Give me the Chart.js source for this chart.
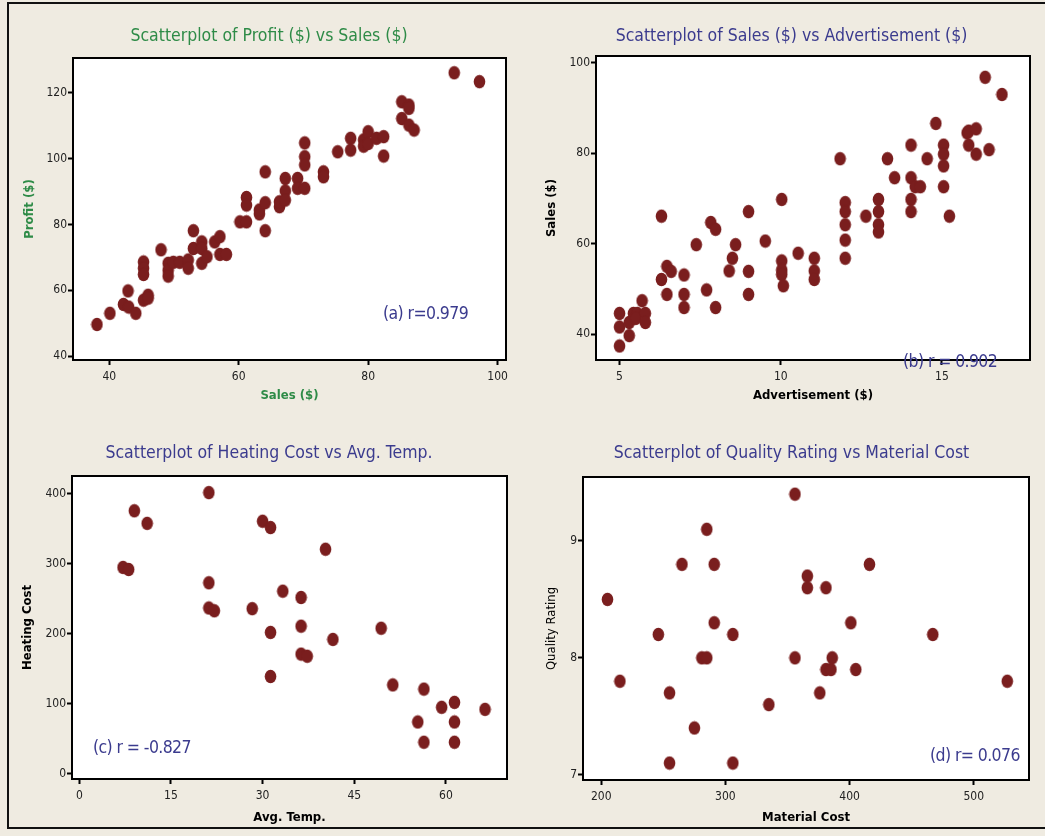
<!DOCTYPE html>
<html>
<head>
<meta charset="utf-8">
<script src="https://cdn.jsdelivr.net/npm/chart.js@4.4.1/dist/chart.umd.min.js"></script>
<style>
  html, body { margin: 0; padding: 0; }
  body { width: 1045px; height: 836px; background: #EFEBE1; position: relative; overflow: hidden; }
  #frame { position: absolute; left: 7px; top: 2px; width: 1060px; height: 827px; border: 2px solid #111; box-sizing: border-box; }
  canvas { position: absolute; }
  .ann { position: absolute; font-family: "DejaVu Sans Condensed", "Liberation Sans Narrow", "Liberation Sans", sans-serif; font-size: 17.5px; color: #3B3B8E; white-space: nowrap; line-height: 1; transform: translateY(-50%); z-index: 5; letter-spacing: -0.6px; }
</style>
</head>
<body>
<div id="frame"></div>
<canvas id="ca" style="left:0px;top:0px" width="538" height="418"></canvas>
<canvas id="cb" style="left:538px;top:0px" width="507" height="418"></canvas>
<canvas id="cc" style="left:0px;top:418px" width="538" height="418"></canvas>
<canvas id="cd" style="left:538px;top:418px" width="507" height="418"></canvas>
<div class="ann" style="left:383px;top:314px">(a) r=0.979</div>
<div class="ann" style="left:903px;top:362px">(b) r = 0.902</div>
<div class="ann" style="left:93px;top:748px">(c) r = -0.827</div>
<div class="ann" style="left:930px;top:756px">(d) r= 0.076</div>
<script>
// ---- Data ----
const salesA = [38.1,40.1,42.2,42.9,43.0,44.1,45.3,45.3,45.3,45.3,46.0,46.0,48.0,49.1,49.1,49.1,49.9,50.9,52.2,52.2,53.0,53.0,54.3,54.3,54.3,55.1,56.3,57.1,57.1,58.1,60.2,61.2,61.2,61.2,63.2,63.2,64.1,64.1,64.1,66.3,66.3,67.2,67.2,67.2,69.1,69.1,70.2,70.2,70.2,70.2,73.1,73.1,75.3,77.3,77.3,79.3,79.3,80.0,80.0,81.3,82.4,82.4,85.2,85.2,86.3,86.3,86.3,87.1,93.3,97.2];
const profitA = [49.6,53.0,55.7,59.8,54.9,53.0,68.6,66.7,64.8,57.0,58.5,57.6,72.3,68.2,66.1,64.3,68.5,68.5,69.2,66.7,78.1,72.7,74.7,72.7,68.2,70.2,74.7,76.3,70.9,70.9,80.8,80.8,88.2,85.9,83.2,84.4,96.0,86.6,78.1,85.4,86.9,94.0,90.2,87.4,94.0,91.0,91.0,104.8,100.6,98.1,96.0,94.5,102.1,106.2,102.6,105.7,103.8,108.2,104.6,106.2,106.7,100.8,117.3,112.2,116.3,115.3,110.2,108.7,126.1,123.4];

const advertB = [5.0,5.0,5.0,5.3,5.3,5.43,5.55,5.5,5.7,5.8,5.8,6.3,6.3,6.47,6.6,6.47,7.0,7.0,7.0,7.38,7.7,7.83,7.98,7.98,8.4,8.5,8.6,9.0,9.0,9.0,9.52,10.03,10.03,10.03,10.03,10.08,10.54,11.04,11.04,11.04,11.84,12.0,12.0,12.0,12.0,12.0,12.64,13.03,13.03,13.03,13.03,13.31,13.53,14.04,14.04,14.04,14.04,14.17,14.33,14.54,14.81,15.05,15.05,15.05,15.05,15.23,15.78,15.83,16.06,15.83,16.06,16.46,16.34,16.86];
const salesB = [44.6,41.6,37.4,39.7,42.6,44.6,44.6,43.5,47.4,44.6,42.6,66.1,52.1,55.0,53.9,48.8,53.1,48.8,45.9,59.8,49.8,64.7,63.2,45.9,54.0,56.8,59.8,67.1,53.9,48.8,60.6,69.8,56.2,54.2,53.2,50.7,57.9,56.8,54.0,52.1,78.8,69.1,67.1,64.2,60.8,56.8,66.1,69.8,67.1,64.2,62.6,78.8,74.6,81.8,74.6,69.8,67.1,72.6,72.6,78.8,86.6,81.8,79.8,77.2,72.6,66.1,84.5,84.9,85.4,81.8,79.8,80.8,96.8,93.0];

const tempC = [9.0,11.1,7.15,8.07,21.2,21.2,21.2,22.1,28.3,30.0,31.3,31.3,31.3,33.3,36.3,36.3,36.3,37.3,40.3,41.5,49.4,51.3,56.4,55.4,56.4,59.3,61.4,61.4,61.4,66.4];
const heatC = [376,358,295,292,402,273,237,233,236,361,352,202,139,261,252,211,171,168,321,192,208,127,121,74,45,95,102,74,45,92];

const materialD = [205,215,246,255,255,265,275,281,285,285,291,291,306,306,335,356,356,366,366,381,376,381,385,386,401,405,416,467,527];
const qualityD = [8.5,7.8,8.2,7.7,7.1,8.8,7.4,8.0,8.0,9.1,8.8,8.3,8.2,7.1,7.6,9.4,8.0,8.7,8.6,8.6,7.7,7.9,7.9,8.0,8.3,7.9,8.8,8.2,7.8];

// tick labels
const ticksAx = [40,60,80,100], ticksAy = [40,60,80,100,120];
const ticksBx = [5,10,15], ticksBy = [40,60,80,100];
const ticksCx = [0,15,30,45,60], ticksCy = [0,100,200,300,400];
const ticksDx = [200,300,400,500], ticksDy = [7,8,9];

// ---- Styling ----
const FONT = '"DejaVu Sans Condensed", "Liberation Sans Narrow", "Liberation Sans", sans-serif';
const GREEN = '#2E8B47', NAVY = '#3B3B8E', DOT = '#7A1E1E';

// elliptical marker image
const dot = document.createElement('canvas');
dot.width = 13; dot.height = 15;
(function(){ const g = dot.getContext('2d'); g.fillStyle = DOT; g.beginPath(); g.ellipse(6.5,7.5,5.8,6.8,0,0,Math.PI*2); g.fill(); })();

const boxPlugin = {
  id: 'box',
  beforeDraw(chart) {
    const a = chart.chartArea, c = chart.ctx;
    c.save(); c.fillStyle = '#fff'; c.fillRect(a.left, a.top, a.right - a.left, a.bottom - a.top); c.restore();
  },
  afterDraw(chart) {
    const a = chart.chartArea, c = chart.ctx;
    c.save(); c.strokeStyle = '#000'; c.lineWidth = 2; c.strokeRect(a.left, a.top, a.right - a.left, a.bottom - a.top); c.restore();
  }
};

function pts(xs, ys) { return xs.map((x, i) => ({x: x, y: ys[i]})); }

function makeChart(id, cfg) {
  const yTitleFont = {family: FONT, size: 13, weight: cfg.yBold === false ? 'normal' : 'bold', lineHeight: 1.2};
  return new Chart(document.getElementById(id), {
    type: 'scatter',
    data: { datasets: [{ data: pts(cfg.xs, cfg.ys), pointStyle: dot, radius: 6, hoverRadius: 6 }] },
    plugins: [boxPlugin],
    options: {
      responsive: false, animation: false, events: [],
      layout: { padding: 0 },
      plugins: {
        legend: { display: false }, tooltip: { enabled: false },
        title: { display: true, text: cfg.title, color: cfg.titleColor,
                 font: {family: FONT, size: 17.5, weight: 'normal', lineHeight: 1.2},
                 padding: {top: cfg.tPadTop, bottom: cfg.tPadBottom} }
      },
      scales: {
        x: {
          type: 'linear', min: cfg.xmin, max: cfg.xmax,
          afterBuildTicks: s => { s.ticks = cfg.xticks.map(v => ({value: v})); },
          afterFit: s => { s.height = cfg.xH; },
          grid: { drawOnChartArea: false, drawTicks: true, tickLength: 5, tickWidth: 2, tickColor: '#000' },
          border: { display: true, color: '#000', width: 2 },
          ticks: { color: '#222', font: {family: FONT, size: 12}, padding: 5, maxRotation: 0 },
          title: { display: true, text: cfg.xTitle, color: cfg.axisColor,
                   font: {family: FONT, size: 13, weight: 'bold', lineHeight: 1.2},
                   padding: {top: 0, bottom: cfg.xTitlePad} }
        },
        y: {
          type: 'linear', min: cfg.ymin, max: cfg.ymax,
          afterBuildTicks: s => { s.ticks = cfg.yticks.map(v => ({value: v})); },
          afterFit: s => { s.width = cfg.yW; },
          grid: { drawOnChartArea: false, drawTicks: true, tickLength: 5, tickWidth: 2, tickColor: '#000' },
          border: { display: true, color: '#000', width: 2 },
          ticks: { color: '#222', font: {family: FONT, size: 12}, padding: 1 },
          title: { display: true, text: cfg.yTitle, color: cfg.axisColor, font: yTitleFont,
                   padding: {top: cfg.yTitlePad, bottom: 0} }
        },
        // empty right-hand spacer axis so the title stays centred on the whole canvas
        yr: {
          type: 'linear', position: 'right', min: 0, max: 1,
          afterFit: s => { s.width = cfg.padRight; },
          grid: { display: false }, border: { display: false },
          ticks: { display: false }
        }
      }
    }
  });
}

makeChart('ca', {
  xs: salesA, ys: profitA, title: 'Scatterplot of Profit ($) vs Sales ($)', titleColor: GREEN,
  xTitle: 'Sales ($)', yTitle: 'Profit ($)', axisColor: GREEN,
  xmin: 34.4, xmax: 101.3, ymin: 38.8, ymax: 130.6, xticks: ticksAx, yticks: ticksAy,
  yW: 73, xH: 58, padRight: 32, tPadTop: 25.5, tPadBottom: 11.5, xTitlePad: 14.2, yTitlePad: 21.5
});
makeChart('cb', {
  xs: advertB, ys: salesB, title: 'Scatterplot of Sales ($) vs Advertisement ($)', titleColor: NAVY,
  xTitle: 'Advertisement ($)', yTitle: 'Sales ($)', axisColor: '#000',
  xmin: 4.27, xmax: 17.73, ymin: 34.3, ymax: 101.5, xticks: ticksBx, yticks: ticksBy,
  yW: 58, xH: 58, padRight: 15, tPadTop: 25.5, tPadBottom: 9.5, xTitlePad: 14.2, yTitlePad: 6.2
});
makeChart('cc', {
  xs: tempC, ys: heatC, title: 'Scatterplot of Heating Cost vs Avg. Temp.', titleColor: NAVY,
  xTitle: 'Avg. Temp.', yTitle: 'Heating Cost', axisColor: '#000',
  xmin: -1.2, xmax: 70.0, ymin: -7.6, ymax: 425.7, xticks: ticksCx, yticks: ticksCy,
  yW: 72, xH: 57, padRight: 31, tPadTop: 24.5, tPadBottom: 12.5, xTitlePad: 10.5, yTitlePad: 20.2
});
makeChart('cd', {
  xs: materialD, ys: qualityD, title: 'Scatterplot of Quality Rating vs Material Cost', titleColor: NAVY,
  xTitle: 'Material Cost', yTitle: 'Quality Rating', axisColor: '#000', yBold: false,
  xmin: 185.3, xmax: 544.5, ymin: 6.955, ymax: 9.547, xticks: ticksDx, yticks: ticksDy,
  yW: 45, xH: 56, padRight: 16, tPadTop: 24.5, tPadBottom: 13.5, xTitlePad: 10.5, yTitlePad: 6.2
});
</script>
</body>
</html>
